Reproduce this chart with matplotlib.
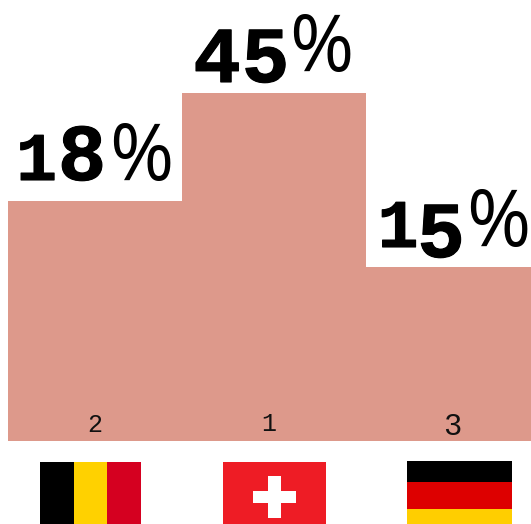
import matplotlib
matplotlib.use('Agg')
import matplotlib.pyplot as plt
import matplotlib.patheffects as pe
from matplotlib.patches import Rectangle

# left to right, as on the podium
shares = [18, 45, 15]
ranks = [2, 1, 3]
podium_heights = [240, 348, 174]

BAR_COLOR = '#DD998B'
W, H = 531, 524

fig = plt.figure(figsize=(W / 100, H / 100), dpi=100)
ax = fig.add_axes([0, 0, 1, 1])
ax.set_xlim(0, W)
ax.set_ylim(H, 0)
ax.axis('off')

base = 441
edges = [8, 182, 366, 531]
for i in range(3):
    ax.bar(edges[i], -podium_heights[i], width=edges[i + 1] - edges[i], bottom=base,
           align='edge', color=BAR_COLOR, linewidth=0)

# old style figures in the reference, so every digit gets its own size and baseline
digit_x = [[36.5, 82], [217, 265.5], [398, 441]]
digit_y = [[180, 180], [82, 82], [247, 257]]
digit_size = {'1': 49, '4': 57, '5': 57, '8': 58}
heavy = [pe.withStroke(linewidth=0.8, foreground='black')]
pct_x = [141, 321.5, 498]
pct_y = [180, 71, 246]
for i in range(3):
    for j, d in enumerate(str(shares[i])):
        ax.text(digit_x[i][j], digit_y[i][j], d, family='Liberation Mono', weight='bold',
                fontsize=digit_size[d], ha='center', va='baseline', color='black',
                path_effects=heavy)
    ax.text(pct_x[i], pct_y[i], '%', family='Open Sans', fontsize=56,
            ha='center', va='baseline', color='black')

# small rank numbers on the bars
rank_x = [95, 269, 452]
rank_y = [432, 431, 435]
rank_size = [18, 18, 22]
for i in range(3):
    ax.text(rank_x[i], rank_y[i], str(ranks[i]), family='Liberation Mono', fontsize=rank_size[i],
            ha='center', va='baseline', color='#111111')


def rect(x0, y0, x1, y1, c):
    ax.add_patch(Rectangle((x0, y0), x1 - x0, y1 - y0, facecolor=c, linewidth=0))


# Belgium
rect(40, 462, 73.5, 524, 'black')
rect(73.5, 462, 107.3, 524, '#FFD100')
rect(107.3, 462, 140.5, 524, '#D50020')
# Switzerland
rect(223, 462, 326, 524, '#EE1C25')
rect(253, 490.7, 295.6, 503.3, 'white')
rect(268, 476, 281, 518.3, 'white')
# Germany
rect(407, 461, 512, 482.3, 'black')
rect(407, 482.3, 512, 508.7, '#DD0000')
rect(407, 508.7, 512, 524, '#FFCE00')

fig.savefig('out.png', dpi=100, facecolor='white')
